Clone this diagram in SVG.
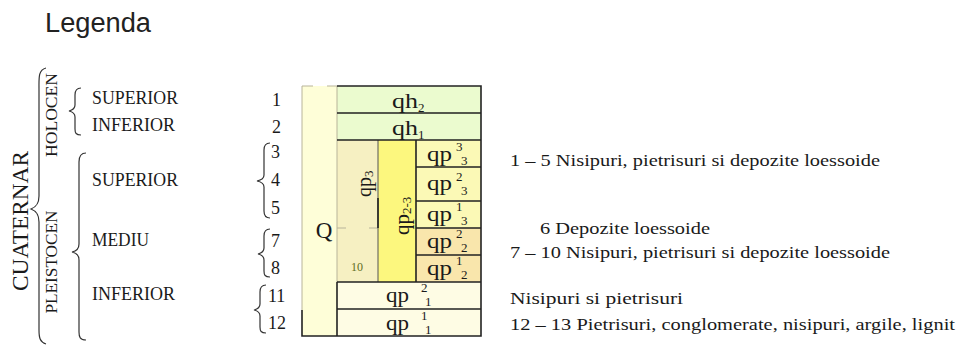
<svg xmlns="http://www.w3.org/2000/svg" width="957" height="347" viewBox="0 0 957 347">
<style>
.s{font-family:"Liberation Serif","Times New Roman",serif;fill:#1a1a1a}
.lbl{font-size:18px}
.num{font-size:18px}
.leg{font-size:17.5px}
.qp{font-size:22px}
.sup{font-size:13px}
.dk{stroke:#222;stroke-width:1.6;fill:none}
.lt{stroke:#b8b49a;stroke-width:1;fill:none}
.br{stroke:#333;stroke-width:1.2;fill:none}
</style>
<rect width="957" height="347" fill="#fff"/>
<text x="45" y="32" font-family="Liberation Sans,Arial,sans-serif" font-size="27" fill="#222" textLength="106" lengthAdjust="spacingAndGlyphs">Legenda</text>

<g id="left-labels">
<text class="s" transform="translate(28,221) rotate(-90)" font-size="23" text-anchor="middle" textLength="140" lengthAdjust="spacingAndGlyphs">CUATERNAR</text>
<path class="br" d="M46,68 C38,70 39,78 39,90 L39,196 C39,204 36,207 31,209 C36,211 39,214 39,222 L39,330 C39,338 40,342 46,344"/>
<text class="s" transform="translate(57,115) rotate(-90)" font-size="17" text-anchor="middle" textLength="84" lengthAdjust="spacingAndGlyphs">HOLOCEN</text>
<text class="s" transform="translate(57,262) rotate(-90)" font-size="17" text-anchor="middle" textLength="103" lengthAdjust="spacingAndGlyphs">PLEISTOCEN</text>
<path class="br" d="M81,88 C76,88 75,91 75,95 L75,105 C75,108 73,110 69,111 C73,112 75,114 75,117 L75,129 C75,133 76,135 81,135"/>
<path class="br" d="M86,153 C80,153 79,157 79,162 L79,244 C79,249 77,251 72,252 C77,253 79,255 79,260 L79,332 C79,337 80,340 86,340"/>
<text class="s lbl" x="92" y="104" textLength="86" lengthAdjust="spacingAndGlyphs">SUPERIOR</text>
<text class="s lbl" x="92" y="131" textLength="83" lengthAdjust="spacingAndGlyphs">INFERIOR</text>
<text class="s lbl" x="92" y="186" textLength="86" lengthAdjust="spacingAndGlyphs">SUPERIOR</text>
<text class="s lbl" x="92" y="246" textLength="57" lengthAdjust="spacingAndGlyphs">MEDIU</text>
<text class="s lbl" x="92" y="300" textLength="83" lengthAdjust="spacingAndGlyphs">INFERIOR</text>
</g>

<g id="numbers">
<text class="s num" x="272" y="106">1</text>
<text class="s num" x="272" y="133">2</text>
<text class="s num" x="271" y="158">3</text>
<text class="s num" x="271" y="186">4</text>
<text class="s num" x="271" y="214">5</text>
<text class="s num" x="271" y="247">7</text>
<text class="s num" x="271" y="274">8</text>
<text class="s num" x="268" y="302">11</text>
<text class="s num" x="268" y="329">12</text>
<path class="br" d="M270,143 C265,143 264,146 264,150 L264,175 C264,178 262,180 257,181 C262,182 264,184 264,187 L264,211 C264,215 265,218 270,218"/>
<path class="br" d="M270,229 C265,229 264,232 264,236 L264,248 C264,251 262,253 258,254 C262,255 264,257 264,260 L264,271 C264,275 265,277 270,277"/>
<path class="br" d="M266,285 C261,285 260,288 260,292 L260,304 C260,307 258,309 254,310 C258,311 260,313 260,316 L260,327 C260,331 261,333 266,333"/>
</g>

<g id="table">
<rect x="302" y="86" width="35" height="250" fill="#fefed8"/>
<rect x="337" y="86" width="144" height="27" fill="#ebfbcf"/>
<rect x="337" y="113" width="144" height="27" fill="#ebfbcf"/>
<rect x="337" y="140" width="41" height="142" fill="#f6f0c2"/>
<rect x="378" y="140" width="38" height="142" fill="#fcf77e"/>
<rect x="416" y="140" width="65" height="27" fill="#fbf9b6"/>
<rect x="416" y="167" width="65" height="34" fill="#fbf9b6"/>
<rect x="416" y="201" width="65" height="27" fill="#fbf9b6"/>
<rect x="416" y="228" width="65" height="27" fill="#f9e6ac"/>
<rect x="416" y="255" width="65" height="27" fill="#f9e6ac"/>
<rect x="337" y="282" width="144" height="27" fill="#fefce4"/>
<rect x="337" y="309" width="144" height="27" fill="#fefce4"/>

<path class="lt" d="M302,86 V310 M337,86 V282"/>
<path class="lt" d="M302,86 H313 M327,86 H337 M337,228 H346 M369,228 H378"/>
<path stroke="#555" stroke-width="1" fill="none" d="M378,140 V282"/>
<path class="dk" d="M337,86 H481 V336 H302 V310 M337,113 H481 M337,140 H481 M416,140 V282 M416,167 H481 M416,201 H481 M416,228 H481 M416,255 H481 M337,282 H481 M337,309 H481 M337,282 V336 M378,198 V228"/>

<text class="s" x="324" y="238" font-size="23" text-anchor="middle">Q</text>
<text x="357" y="271" font-family="Liberation Serif,serif" font-size="12" fill="#5f6e22" text-anchor="middle">10</text>
<text class="s" transform="translate(371,197) rotate(-90)" font-size="20">qp<tspan font-size="13" dy="2">3</tspan></text>
<text class="s" transform="translate(409,235) rotate(-90)" font-size="21">qp<tspan font-size="13" dy="2">2-3</tspan></text>

<text class="s" x="392" y="108" font-size="22" textLength="26" lengthAdjust="spacingAndGlyphs">qh</text><text class="s sup" x="418" y="112">2</text>
<text class="s" x="392" y="135" font-size="22" textLength="26" lengthAdjust="spacingAndGlyphs">qh</text><text class="s sup" x="418" y="139">1</text>

<g class="s">
<text class="qp" x="427" y="161" textLength="25" lengthAdjust="spacingAndGlyphs">qp</text><text class="sup" x="456" y="151">3</text><text class="sup" x="461" y="165">3</text>
<text class="qp" x="427" y="190" textLength="25" lengthAdjust="spacingAndGlyphs">qp</text><text class="sup" x="456" y="181">2</text><text class="sup" x="461" y="195">3</text>
<text class="qp" x="427" y="221" textLength="25" lengthAdjust="spacingAndGlyphs">qp</text><text class="sup" x="456" y="211">1</text><text class="sup" x="461" y="225">3</text>
<text class="qp" x="427" y="248" textLength="25" lengthAdjust="spacingAndGlyphs">qp</text><text class="sup" x="456" y="238">2</text><text class="sup" x="461" y="252">2</text>
<text class="qp" x="427" y="275" textLength="25" lengthAdjust="spacingAndGlyphs">qp</text><text class="sup" x="456" y="265">1</text><text class="sup" x="461" y="279">2</text>
<text class="qp" x="386" y="302" textLength="23" lengthAdjust="spacingAndGlyphs">qp</text><text class="sup" x="421" y="292">2</text><text class="sup" x="425" y="306">1</text>
<text class="qp" x="386" y="330" textLength="23" lengthAdjust="spacingAndGlyphs">qp</text><text class="sup" x="421" y="320">1</text><text class="sup" x="425" y="334">1</text>
</g>
</g>

<g id="legend-text">
<text class="s leg" x="510" y="166" textLength="370" lengthAdjust="spacingAndGlyphs">1 – 5 Nisipuri, pietrisuri si depozite loessoide</text>
<text class="s leg" x="540" y="234" textLength="170" lengthAdjust="spacingAndGlyphs">6 Depozite loessoide</text>
<text class="s leg" x="510" y="258" textLength="380" lengthAdjust="spacingAndGlyphs">7 – 10 Nisipuri, pietrisuri si depozite loessoide</text>
<text class="s leg" x="510" y="304" textLength="173" lengthAdjust="spacingAndGlyphs">Nisipuri si pietrisuri</text>
<text class="s leg" x="510" y="330" textLength="445" lengthAdjust="spacingAndGlyphs">12 – 13 Pietrisuri, conglomerate, nisipuri, argile, lignit</text>
</g>
</svg>
